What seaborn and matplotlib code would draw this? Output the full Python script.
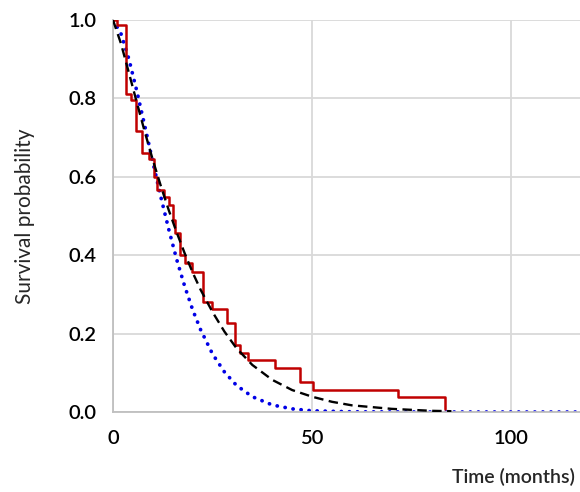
import pandas as pd
import seaborn as sns
import matplotlib.pyplot as plt

# Kaplan-Meier steps (time of drop, survival after drop)
km_time = [0, 1.1, 3.3, 4.6, 5.9, 7.3, 9.0, 10.2, 11.0, 12.8, 14.1, 15.0, 15.6,
           16.8, 18.1, 19.8, 22.7, 24.8, 28.7, 30.6, 31.9, 34.0, 40.7, 47.0,
           50.2, 71.5, 83.3]
km_surv = [1.0, 0.987, 0.81, 0.796, 0.717, 0.66, 0.645, 0.60, 0.566, 0.548,
           0.528, 0.49, 0.456, 0.40, 0.379, 0.358, 0.281, 0.264, 0.226, 0.171,
           0.15, 0.133, 0.111, 0.077, 0.056, 0.037, 0.017]
km_surv_end = 0.0

# dashed black fitted curve
fit1_time = [0, 2, 4, 6, 8, 10, 12, 14, 16, 18, 20, 22, 25, 28, 31, 35, 40,
             45, 50, 55, 60, 70, 80, 85]
fit1_surv = [1.0, 0.94, 0.865, 0.789, 0.714, 0.643, 0.577, 0.515, 0.458, 0.405,
             0.356, 0.312, 0.255, 0.205, 0.163, 0.12, 0.082, 0.056, 0.039,
             0.026, 0.017, 0.008, 0.003, 0.002]

# dotted blue fitted curve
fit2_time = [0, 2, 4, 6, 8, 10, 12, 14, 16, 18, 20, 22, 25, 28, 31, 35, 40,
             45, 50, 60, 80, 100, 120]
fit2_surv = [1.0, 0.965, 0.90, 0.818, 0.729, 0.638, 0.549, 0.466, 0.389, 0.321,
             0.261, 0.21, 0.148, 0.102, 0.068, 0.039, 0.018, 0.008, 0.003,
             0.0005, 0, 0, 0]

km = pd.DataFrame({"t": km_time + [km_time[-1]],
                   "s": km_surv + [km_surv_end]})
f1 = pd.DataFrame({"t": fit1_time, "s": fit1_surv})
f2 = pd.DataFrame({"t": fit2_time, "s": fit2_surv})

sns.set_theme(style="white")
plt.rcParams['font.family'] = ['Lato', 'DejaVu Sans']
plt.rcParams['font.weight'] = 'semibold'

fig = plt.figure(figsize=(5.8, 4.92), dpi=100)
ax = fig.add_axes([113/580, 80/492, 1 - 113/580, 392/492])

sns.lineplot(data=f2, x="t", y="s", ax=ax, color="#0000e6", linewidth=2.7,
             linestyle=(0, (0.05, 2.1)), dash_capstyle="round", zorder=2)
sns.lineplot(data=f1, x="t", y="s", ax=ax, color="black", linewidth=1.7,
             linestyle=(0, (4, 2.3)), zorder=4)
sns.lineplot(data=km, x="t", y="s", ax=ax, color="#c00000", linewidth=1.8,
             drawstyle="steps-post", zorder=3)

ax.set_xlim(0, 117.3)
ax.set_ylim(0, 1.0)
ax.set_xticks([0, 50, 100])
ax.set_yticks([0, 0.2, 0.4, 0.6, 0.8, 1.0])
ax.set_yticklabels(["0.0", "0.2", "0.4", "0.6", "0.8", "1.0"])
ax.grid(True, color="#d9d9d9", linewidth=1.3)
ax.set_axisbelow(True)
for s in ["top", "right"]:
    ax.spines[s].set_visible(False)
for s in ["left", "bottom"]:
    ax.spines[s].set_color("#bfbfbf")
    ax.spines[s].set_linewidth(1.3)
ax.tick_params(axis="both", length=0, labelsize=14.5, colors="black")
ax.tick_params(axis="x", pad=13)
ax.tick_params(axis="y", pad=12)

ax.set_ylabel("Survival probability", fontsize=15, labelpad=24)
ax.set_xlabel("")
fig.text(575/580, 1 - 477/492, "Time (months)", ha="right", va="center",
         fontsize=14)

fig.savefig("out.png", dpi=100)
